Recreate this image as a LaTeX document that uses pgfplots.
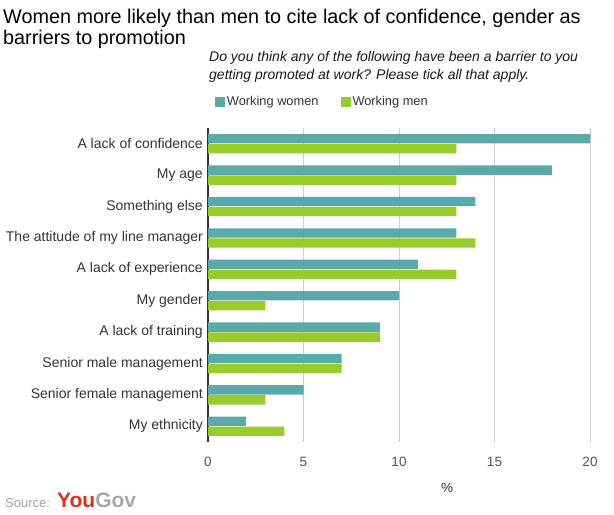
\documentclass[border=0pt]{standalone}
\usepackage{fontspec}
\setmainfont{Liberation Sans}
\usepackage{pgfplots}
\pgfplotsset{compat=1.18}
\definecolor{women}{HTML}{5AA9AB}
\definecolor{men}{HTML}{96CD2A}
\definecolor{gridc}{HTML}{CCCCCC}
\definecolor{labc}{HTML}{333333}
\definecolor{tickc}{HTML}{555555}
\definecolor{ygred}{HTML}{E0301E}
\definecolor{yggray}{HTML}{A8A8A8}
\definecolor{srcc}{HTML}{A0A0A0}
\begin{document}
\begin{tikzpicture}
\path[use as bounding box] (0bp,0bp) rectangle (614bp,515bp);
\node[anchor=base west, inner sep=0pt, font=\fontsize{19.8bp}{22bp}\selectfont] at (3bp,491bp) {Women more likely than men to cite lack of confidence, gender as};
\node[anchor=base west, inner sep=0pt, font=\fontsize{19.8bp}{22bp}\selectfont] at (3bp,470bp) {barriers to promotion};
\node[anchor=base west, inner sep=0pt, text=black!90, font=\fontsize{14bp}{15bp}\selectfont\itshape] at (209bp,453bp) {Do you think any of the following have been a barrier to you};
\node[anchor=base west, inner sep=0pt, text=black!90, font=\fontsize{14bp}{15bp}\selectfont\itshape] at (209bp,435bp) {getting promoted at work? Please tick all that apply.};
\node[anchor=base west, inner sep=0pt, text=srcc, font=\fontsize{13bp}{15bp}\selectfont] at (5bp,8bp) {Source:};
\node[anchor=base west, inner sep=0pt, font=\fontsize{21bp}{24bp}\selectfont\bfseries] at (57bp,8bp) {\textcolor{ygred}{You}\textcolor{yggray}{Gov}};
\begin{axis}[
  at={(208bp,73bp)}, anchor=south west,
  scale only axis, width=382bp, height=314bp,
  xbar, bar width=9.3bp,
  xmin=0, xmax=20, ymin=-0.5, ymax=9.5,
  xtick={0,5,10,15,20},
  ytick={0,...,9},
  yticklabels={My ethnicity,Senior female management,Senior male management,A lack of training,My gender,A lack of experience,The attitude of my line manager,Something else,My age,A lack of confidence},
  axis lines*=left,
  x axis line style={draw=none},
  y axis line style={draw=labc, line width=1.3bp},
  major tick length=0pt,
  xmajorgrids, major grid style={draw=gridc, line width=0.9bp},
  /pgf/number format/assume math mode=true,
  xticklabel style={anchor=base, yshift=-25bp, text=tickc, font=\fontsize{13.5bp}{15bp}\selectfont},
  yticklabel style={anchor=east, inner sep=0pt, xshift=-5bp, text=labc, font=\fontsize{14bp}{15bp}\selectfont},
  xlabel={\%},
  xlabel style={at={(rel axis cs:0.626,0)}, anchor=base, yshift=-50bp, text=labc, font=\fontsize{13.5bp}{15bp}\selectfont},
  legend columns=2,
  legend style={at={(0.01,1.083)}, anchor=west, draw=none, fill=none, font=\fontsize{12.8bp}{15bp}\selectfont, text=labc,
    /tikz/every even column/.append style={column sep=20bp}},
  legend image code/.code={\fill[#1] (0bp,-5bp) rectangle (10bp,5bp);},
]
\addplot[fill=women, draw=none, bar shift=5bp] coordinates {(2,0) (5,1) (7,2) (9,3) (10,4) (11,5) (13,6) (14,7) (18,8) (20,9)};
\addplot[fill=men, draw=none, bar shift=-5bp] coordinates {(4,0) (3,1) (7,2) (9,3) (3,4) (13,5) (14,6) (13,7) (13,8) (13,9)};
\legend{Working women, Working men}
\end{axis}
\end{tikzpicture}
\end{document}
